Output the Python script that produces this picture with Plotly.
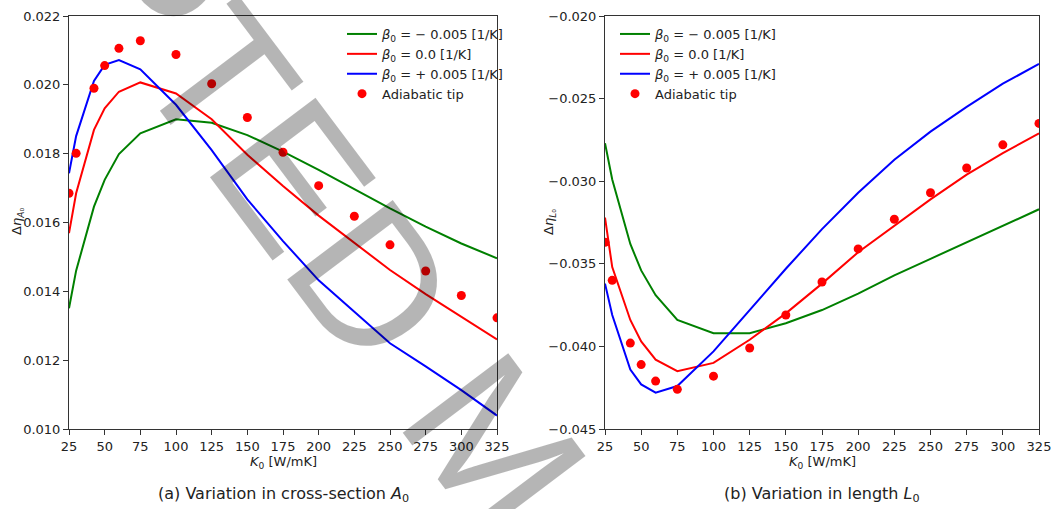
import plotly.graph_objects as go

# Thermal conductivity K0 [W/mK] at which each case was evaluated
k0 = [25, 30, 42.5, 50, 60, 75, 100, 125, 150, 175, 200, 225, 250, 275, 300, 325]
k0_ticks = [25, 50, 75, 100, 125, 150, 175, 200, 225, 250, 275, 300, 325]

# (a) variation in cross-section A0
area_beta_neg = [0.01351, 0.0146, 0.01646, 0.01724, 0.01799, 0.01859, 0.0190, 0.0189,
                 0.01854, 0.01806, 0.01753, 0.01696, 0.01641, 0.01588, 0.01539, 0.01496]
area_beta_zero = [0.01569, 0.01685, 0.01869, 0.01932, 0.0198, 0.02007, 0.01975, 0.0190,
                  0.01797, 0.01706, 0.0162, 0.0154, 0.01462, 0.01392, 0.01325, 0.0126]
area_beta_pos = [0.01743, 0.01851, 0.02011, 0.02058, 0.02072, 0.02045, 0.01942, 0.0181,
                 0.01667, 0.01546, 0.01432, 0.0134, 0.01249, 0.01182, 0.01113, 0.01039]
area_adiabatic = [0.01685, 0.01801, 0.0199, 0.02056, 0.02106, 0.02128, 0.02088, 0.02003,
                  0.01905, 0.01804, 0.01707, 0.01618, 0.01535, 0.01459, 0.01388, 0.01323]

# (b) variation in length L0
length_beta_neg = [-0.0277, -0.0299, -0.0338, -0.0354, -0.0369, -0.0384, -0.0392, -0.0392,
                   -0.0386, -0.0378, -0.0368, -0.0357, -0.0347, -0.0337, -0.0327, -0.0317]
length_beta_zero = [-0.0322, -0.0352, -0.0384, -0.0397, -0.0408, -0.0415, -0.0410, -0.0396,
                    -0.0380, -0.0362, -0.0343, -0.0327, -0.0311, -0.0296, -0.0283, -0.0271]
length_beta_pos = [-0.0362, -0.0381, -0.0414, -0.0423, -0.0428, -0.0424, -0.0403, -0.0378,
                   -0.0353, -0.0329, -0.0307, -0.0287, -0.0270, -0.0255, -0.0241, -0.0229]
length_adiabatic = [-0.0337, -0.0360, -0.0398, -0.0411, -0.0421, -0.0426, -0.0418, -0.0401,
                    -0.0381, -0.0361, -0.0341, -0.0323, -0.0307, -0.0292, -0.0278, -0.0265]

series_names = [
    "<i>β</i><sub>0</sub> = − 0.005 [1/K]",
    "<i>β</i><sub>0</sub> = 0.0 [1/K]",
    "<i>β</i><sub>0</sub> = + 0.005 [1/K]",
    "Adiabatic tip",
]
line_colors = ["#008000", "#ff0000", "#0000ff"]

FONT = "DejaVu Sans"
W, H = 1062, 509

fig = go.Figure()

panels = [
    ("x", "y", "legend", [area_beta_neg, area_beta_zero, area_beta_pos], area_adiabatic),
    ("x2", "y2", "legend2", [length_beta_neg, length_beta_zero, length_beta_pos], length_adiabatic),
]
for xa, ya, leg, curves, dots in panels:
    for name, col, vals in zip(series_names[:3], line_colors, curves):
        fig.add_trace(go.Scatter(
            x=k0, y=vals, mode="lines", name=name, xaxis=xa, yaxis=ya, legend=leg,
            line=dict(color=col, width=2),
        ))
    fig.add_trace(go.Scatter(
        x=k0, y=dots, mode="markers", name=series_names[3], xaxis=xa, yaxis=ya, legend=leg,
        marker=dict(color="#ff0000", size=9, line=dict(width=0)),
    ))


def px_x(p):
    return p / W


def px_y(p):
    return 1 - p / H


axis_common = dict(
    showgrid=False, zeroline=False, showline=True, mirror=True,
    linecolor="#333", linewidth=1, ticks="outside", ticklen=5, tickwidth=1,
    tickcolor="#333", tickfont=dict(family=FONT, size=13, color="#222"),
    automargin=False,
)

fig.update_layout(
    width=W, height=H,
    margin=dict(l=0, r=0, t=0, b=0),
    paper_bgcolor="white", plot_bgcolor="white",
    font=dict(family=FONT, size=13, color="#222"),
    xaxis=dict(domain=[px_x(69), px_x(497)], range=[25, 325], tickvals=k0_ticks,
               anchor="y", **axis_common),
    yaxis=dict(domain=[px_y(429), px_y(16)], range=[0.010, 0.022], dtick=0.002,
               tick0=0.010, tickformat=".3f", anchor="x", **axis_common),
    xaxis2=dict(domain=[px_x(605), px_x(1039)], range=[25, 325], tickvals=k0_ticks,
                anchor="y2", **axis_common),
    yaxis2=dict(domain=[px_y(429), px_y(16)], range=[-0.045, -0.020], dtick=0.005,
                tick0=-0.045, tickformat=".3f", anchor="x2", **axis_common),
    legend=dict(x=px_x(342), y=px_y(19), xanchor="left", yanchor="top",
                bgcolor="rgba(255,255,255,0)", font=dict(family=FONT, size=13, color="#222"),
                tracegroupgap=0),
    legend2=dict(x=px_x(615), y=px_y(19), xanchor="left", yanchor="top",
                 bgcolor="rgba(255,255,255,0)", font=dict(family=FONT, size=13, color="#222"),
                 tracegroupgap=0),
    showlegend=True,
)

# axis titles and sub-captions
texts = [
    ("<i>K</i><sub>0</sub> [W/mK]", 283, 462, 13, 0),
    ("<i>K</i><sub>0</sub> [W/mK]", 822, 462, 13, 0),
    ("(a) Variation in cross-section <i>A</i><sub>0</sub>", 283, 494, 16, 0),
    ("(b) Variation in length <i>L</i><sub>0</sub>", 822, 494, 16, 0),
    ("Δ<i>η</i><sub><i>A</i>₀</sub>", 17, 222, 13, -90),
    ("Δ<i>η</i><sub><i>L</i>₀</sub>", 549, 222, 13, -90),
]
for txt, cx, cy, size, ang in texts:
    fig.add_annotation(
        text=txt, x=px_x(cx), y=px_y(cy), xref="paper", yref="paper",
        xanchor="center", yanchor="middle", showarrow=False, textangle=ang,
        font=dict(family=FONT, size=size, color="#222"),
    )

# diagonal manuscript stamp across the page
fig.add_annotation(
    text="ACCEPTED MANUSCRIPT", x=px_x(498), y=px_y(448), xref="paper", yref="paper",
    xanchor="center", yanchor="middle", showarrow=False, textangle=53,
    font=dict(family="Liberation Sans", size=192, color="rgba(0,0,0,0.29)"),
)

fig.write_html("out.html")
